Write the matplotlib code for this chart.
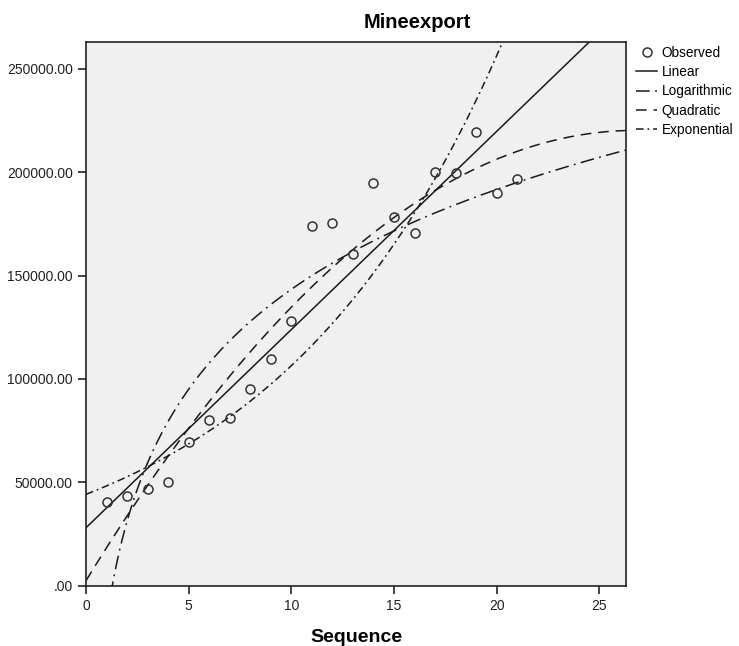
import numpy as np
import matplotlib
matplotlib.use("Agg")
import matplotlib.pyplot as plt
from matplotlib.ticker import FuncFormatter
from matplotlib.lines import Line2D

plt.rcParams['font.family'] = ['Liberation Sans', 'DejaVu Sans']

# Data
sequence = [1, 2, 3, 4, 5, 6, 7, 8, 9, 10, 11, 12, 13, 14, 15, 16, 17, 18, 19, 20, 21]
mineexport = [40200, 43200, 46900, 50000, 69500, 79900, 81100, 95000, 109400, 127900,
              174200, 175400, 160400, 194800, 178100, 170800, 200200, 199400, 219300,
              189700, 196700]
x_ticks = [0, 5, 10, 15, 20, 25]
y_ticks = [0, 50000, 100000, 150000, 200000, 250000]
legend_labels = ["Observed", "Linear", "Logarithmic", "Quadratic", "Exponential"]

x = np.array(sequence, dtype=float)
y = np.array(mineexport, dtype=float)

XMAX = 26.3
YMAX = 263000

# Curve estimation fits (least squares)
lin = np.polyfit(x, y, 1)
logf = np.polyfit(np.log(x), y, 1)
quad = np.polyfit(x, y, 2)
expf = np.polyfit(x, np.log(y), 1)

xs = np.linspace(0, XMAX, 600)
xs_log = np.linspace(0.05, XMAX, 600)

fig = plt.figure(figsize=(7.39, 6.46), dpi=100)
ax = fig.add_axes([86/739, 1 - 585.5/646, (626 - 86)/739, (585.5 - 42)/646])
ax.set_facecolor('#F0F0F0')

lw = 1.1
ls_log = (0, (9, 3.5, 1.2, 3.5))
ls_quad = (0, (7, 4.5))
ls_exp = (0, (5, 2.5, 1.2, 2.5))
ax.plot(xs, np.polyval(lin, xs), color='#1a1a1a', lw=lw, linestyle='-')
ax.plot(xs_log, np.polyval(logf, np.log(xs_log)), color='#1a1a1a', lw=lw, linestyle=ls_log)
ax.plot(xs, np.polyval(quad, xs), color='#1a1a1a', lw=lw, linestyle=ls_quad)
ax.plot(xs, np.exp(np.polyval(expf, xs)), color='#1a1a1a', lw=lw, linestyle=ls_exp)
ax.plot(x, y, linestyle='none', marker='o', markersize=6.5, markerfacecolor='none',
        markeredgecolor='#333333', markeredgewidth=1.1)

ax.set_xlim(0, XMAX)
ax.set_ylim(0, YMAX)
ax.set_xticks(x_ticks)
ax.set_yticks(y_ticks)
ax.yaxis.set_major_formatter(FuncFormatter(lambda v, p: ".00" if v == 0 else f"{v:.2f}"))
ax.tick_params(direction='out', length=6, width=1.2, labelsize=10, colors='#222222',
               top=False, right=False)
for s in ax.spines.values():
    s.set_color('#222222')
    s.set_linewidth(1.2)

ax.set_xlabel("Sequence", fontsize=14, fontweight='bold', labelpad=12)
fig.text(417/739, 1 - 23/646, "Mineexport", fontsize=14.5, fontweight='bold',
         ha='center', va='center')

handles = [
    Line2D([], [], linestyle='none', marker='o', markersize=6.5, markerfacecolor='none',
           markeredgecolor='#333333', markeredgewidth=1.1),
    Line2D([], [], color='#1a1a1a', lw=lw, linestyle='-'),
    Line2D([], [], color='#1a1a1a', lw=lw, linestyle=ls_log),
    Line2D([], [], color='#1a1a1a', lw=lw, linestyle=ls_quad),
    Line2D([], [], color='#1a1a1a', lw=lw, linestyle=ls_exp),
]
fig.legend(handles, legend_labels, loc='upper left', bbox_to_anchor=(636/739, 1 - 46/646),
           frameon=False, fontsize=9.8, handlelength=1.55, handletextpad=0.35,
           labelspacing=0.38, borderaxespad=0, borderpad=0)

fig.savefig("out.png", dpi=100)
